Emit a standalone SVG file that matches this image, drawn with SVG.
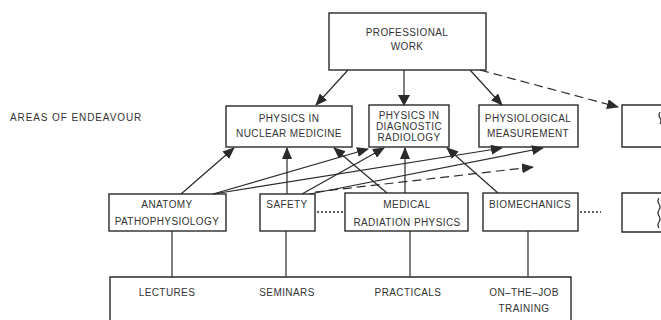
<svg xmlns="http://www.w3.org/2000/svg" width="661" height="320" viewBox="0 0 661 320">
<style>
.box{fill:none;stroke:#2a2a2a;stroke-width:1.4}
text{font-family:"Liberation Sans",Arial,sans-serif;font-size:10px;fill:#333;text-anchor:middle;letter-spacing:0.4px}
.ln{fill:none;stroke:#2a2a2a;stroke-width:1.2}
.ar{marker-end:url(#ah)}
.dash{stroke-dasharray:9 5}
.dot{stroke-dasharray:2 2;stroke-width:1.6}
</style>
<defs>
<marker id="ah" markerUnits="userSpaceOnUse" markerWidth="12" markerHeight="10" viewBox="0 0 12 10" refX="11" refY="5" orient="auto">
<path d="M0,0 L12,5 L0,10 Z" fill="#2a2a2a"/>
</marker>
</defs>
<rect width="661" height="320" fill="#ffffff"/>
<text x="10" y="121" style="text-anchor:start;letter-spacing:0.9px">AREAS OF ENDEAVOUR</text>
<g id="professional-work">
<rect class="box" x="329" y="13" width="157" height="57"/>
<text x="407" y="36">PROFESSIONAL</text>
<text x="407" y="50">WORK</text>
</g>
<g id="nuclear-medicine">
<rect class="box" x="226" y="106" width="126" height="41"/>
<text x="289" y="122">PHYSICS IN</text>
<text x="289" y="137">NUCLEAR MEDICINE</text>
</g>
<g id="diagnostic-radiology">
<rect class="box" x="369" y="105" width="80" height="42"/>
<text x="409" y="119">PHYSICS IN</text>
<text x="409" y="130">DIAGNOSTIC</text>
<text x="409" y="141">RADIOLOGY</text>
</g>
<g id="physiological-measurement">
<rect class="box" x="479" y="105" width="99" height="42"/>
<text x="528" y="122">PHYSIOLOGICAL</text>
<text x="528" y="137">MEASUREMENT</text>
</g>
<g id="area-more">
<path class="box" d="M662,105 H622 V147 H662"/>
<path class="ln" d="M660,112 q-2,3 0,6 q2,3 0,6" stroke-width="0.8"/>
</g>
<g id="anatomy">
<rect class="box" x="109" y="194" width="117" height="37"/>
<text x="167" y="208">ANATOMY</text>
<text x="167" y="225">PATHOPHYSIOLOGY</text>
</g>
<g id="safety">
<rect class="box" x="260" y="194" width="55" height="37"/>
<text x="287" y="208">SAFETY</text>
</g>
<g id="medical-radiation-physics">
<rect class="box" x="345" y="193" width="123" height="38"/>
<text x="407" y="208">MEDICAL</text>
<text x="407" y="226">RADIATION PHYSICS</text>
</g>
<g id="biomechanics">
<rect class="box" x="483" y="193" width="95" height="38"/>
<text x="530" y="208">BIOMECHANICS</text>
</g>
<g id="subject-more">
<path class="box" d="M662,193 H622 V232 H662"/>
<path class="ln" d="M659,198 q-2,3 0,6 q2,3 0,6 q-2,3 0,6 q2,3 0,6 q-2,3 0,6" stroke-width="0.8"/>
</g>
<g id="teaching-methods">
<path class="box" d="M110,322 V277 H571 V322"/>
<text x="167" y="296">LECTURES</text>
<text x="287" y="296">SEMINARS</text>
<text x="408" y="296">PRACTICALS</text>
<text x="524" y="296">ON–THE–JOB</text>
<text x="524" y="312">TRAINING</text>
</g>
<g id="connectors">
<path class="ln ar" d="M348,70 L316,105"/>
<path class="ln" d="M404,70 V97" stroke-width="2.6"/>
<path d="M398,95 L410,95 L404,106 Z" fill="#2a2a2a"/>
<path class="ln ar" d="M470,70 L502,105"/>
<path class="ln ar dash" d="M480,70 L618,107"/>
<path class="ln ar" d="M181,194 L234,148"/>
<path class="ln ar" d="M213,194 L368,149"/>
<path class="ln ar" d="M213,194 L502,148"/>
<path class="ln ar" d="M287,194 V148"/>
<path class="ln ar" d="M302,194 L384,148"/>
<path class="ln ar" d="M310,194 L543,148"/>
<path class="ln ar dash" d="M315,192 L533,167"/>
<path class="ln ar" d="M387,193 L334,148"/>
<path class="ln ar" d="M405,193 V148"/>
<path class="ln ar" d="M498,193 L447,148"/>
<path class="ln dot" d="M317,212 H344"/>
<path class="ln dot" d="M580,212 H601"/>
<path class="ln" d="M172,231 V277"/>
<path class="ln" d="M286,231 V277"/>
<path class="ln" d="M410,231 V277"/>
<path class="ln" d="M528,231 V277"/>
</g>
</svg>
